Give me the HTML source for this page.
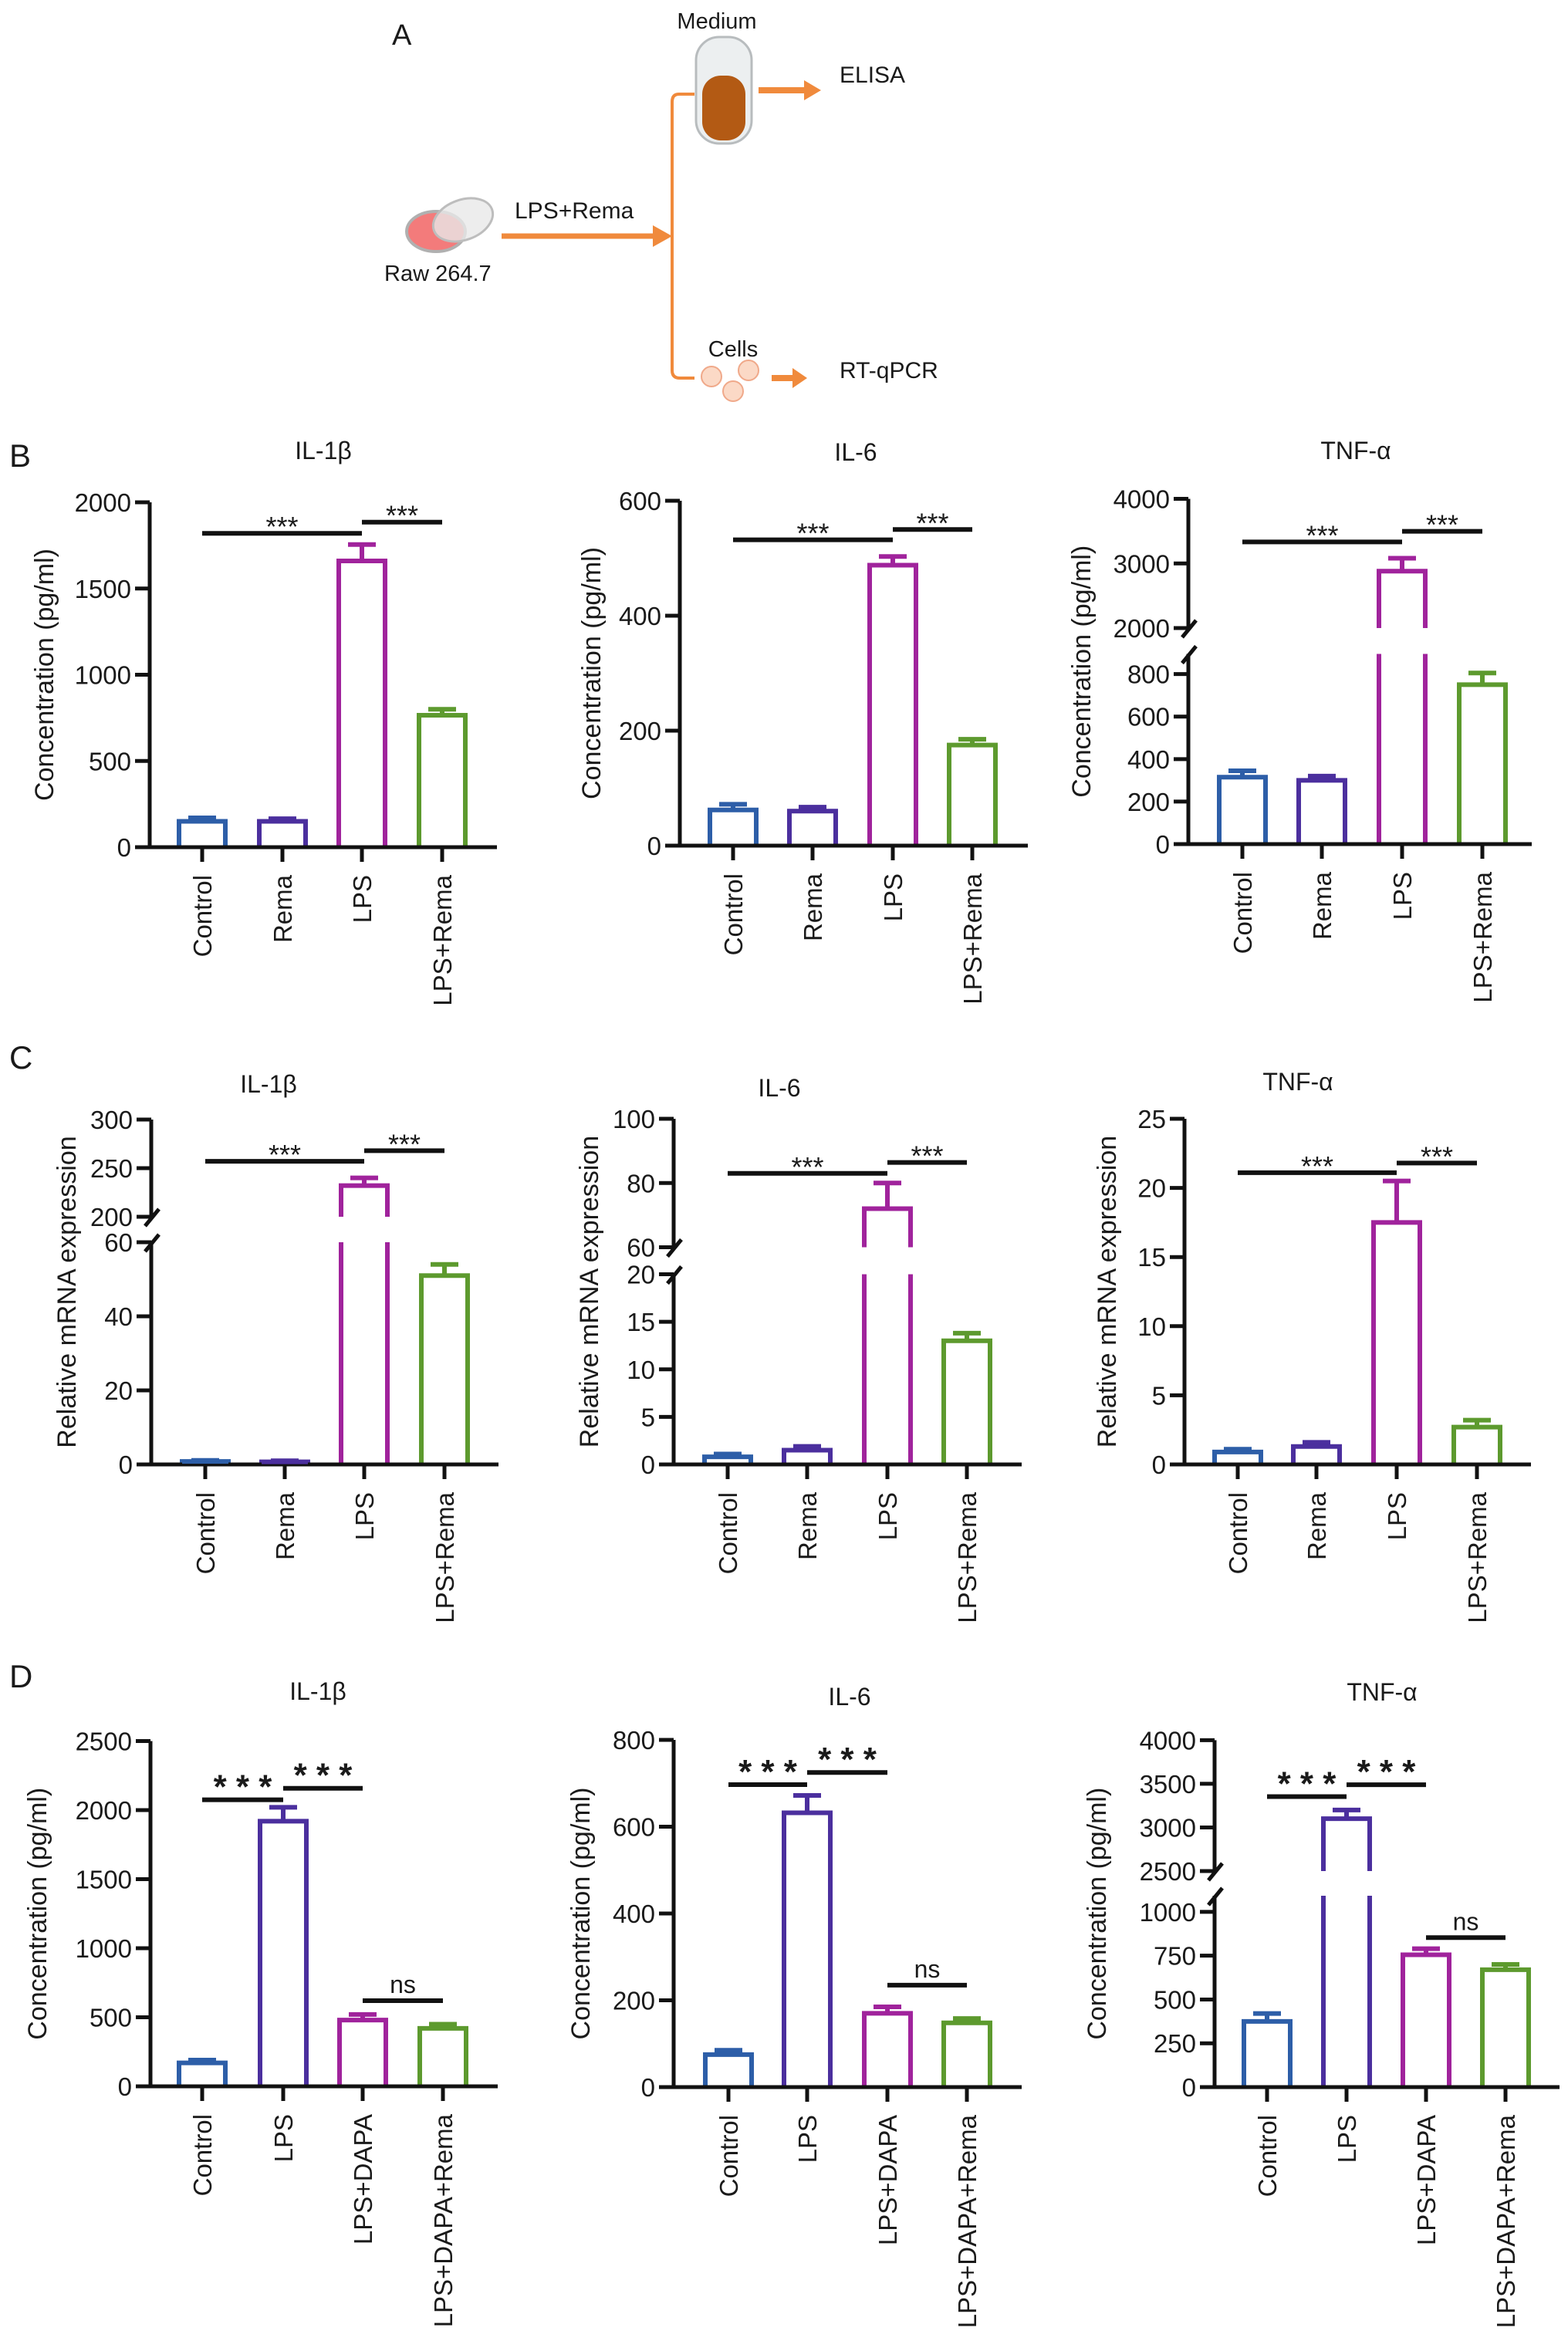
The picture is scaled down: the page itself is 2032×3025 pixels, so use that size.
<!DOCTYPE html>
<html><head><meta charset="utf-8"><style>
html,body{margin:0;padding:0;background:#fff}
svg{display:block}
text{font-family:"Liberation Sans",Arial,sans-serif;fill:#1a1a1a}
</style></head><body>
<svg id="fig" width="2032" height="3025" viewBox="0 0 2032 3025" xmlns="http://www.w3.org/2000/svg">
<g id="panelA">
  <text x="508" y="58" font-size="38">A</text>
  <text x="929" y="37" font-size="29" text-anchor="middle">Medium</text>
  <rect x="902" y="48" width="72" height="138" rx="30" fill="#eceff0" stroke="#b8bcbe" stroke-width="3"/>
  <rect x="910" y="98" width="56" height="84" rx="24" fill="#b35a14"/>
  <path d="M900 122 L880 122 Q871 122 871 132 L871 480 Q871 490 881 490 L900 490" fill="none" stroke="#f08a3c" stroke-width="4"/>
  <line x1="983" y1="117" x2="1045" y2="117" stroke="#f08a3c" stroke-width="8"/>
  <polygon points="1042,104 1064,117 1042,130" fill="#f08a3c"/>
  <text x="1088" y="107" font-size="30">ELISA</text>
  <ellipse cx="565" cy="300" rx="38" ry="26" fill="#f37b7b" stroke="#b0b0b0" stroke-width="4"/>
  <ellipse cx="600" cy="285" rx="40" ry="26" fill="#e8e8e8" fill-opacity="0.8" stroke="#bdbdbd" stroke-width="3" transform="rotate(-20 600 285)"/>
  <text x="498" y="364" font-size="29">Raw 264.7</text>
  <line x1="650" y1="306" x2="850" y2="306" stroke="#f08a3c" stroke-width="7"/>
  <polygon points="846,292 871,306 846,320" fill="#f08a3c"/>
  <text x="667" y="283" font-size="30">LPS+Rema</text>
  <text x="950" y="462" font-size="29" text-anchor="middle">Cells</text>
  <g fill="#fbd9c6" stroke="#f0a98a" stroke-width="2">
    <circle cx="922" cy="488" r="13"/><circle cx="970" cy="480" r="13"/><circle cx="950" cy="507" r="13"/>
  </g>
  <line x1="1000" y1="490" x2="1030" y2="490" stroke="#f08a3c" stroke-width="8"/>
  <polygon points="1027,477 1046,490 1027,503" fill="#f08a3c"/>
  <text x="1088" y="490" font-size="30">RT-qPCR</text>
</g>
<text x="12" y="605" font-size="42">B</text>
<text x="12" y="1385" font-size="42">C</text>
<text x="12" y="2187" font-size="42">D</text>
</svg>
<script>
// ---- data ----
const catsBC = ["Control","Rema","LPS","LPS+Rema"];
const catsD = ["Control","LPS","LPS+DAPA","LPS+DAPA+Rema"];
const colorsBC = ["#2d5ea8","#4b2f9e","#a0239c","#5d9a2e"];
const colorsD = ["#2d5ea8","#4b2f9e","#a0239c","#5d9a2e"];

const bIl1bVals = [150,150,1660,765];
const bIl1bErrs = [20,15,95,35];
const bIl1bTicks = [0,500,1000,1500,2000];
const bIl1bSig = [[0,2,1820,"***"],[2,3,1885,"***"]];

const bIl6Vals = [62,60,488,175];
const bIl6Errs = [10,7,15,10];
const bIl6Ticks = [0,200,400,600];
const bIl6Sig = [[0,2,532,"***"],[2,3,550,"***"]];

const bTnfVals = [315,300,2880,750];
const bTnfErrs = [30,20,200,55];
const bTnfTicks = [0,200,400,600,800,2000,3000,4000];
const bTnfSig = [[0,2,3333,"***"],[2,3,3497,"***"]];

const cIl1bVals = [0.8,0.7,232,51];
const cIl1bErrs = [0.3,0.3,8,3];
const cIl1bTicks = [0,20,40,60,200,250,300];
const cIl1bSig = [[0,2,257,"***"],[2,3,268,"***"]];

const cIl6Vals = [0.8,1.5,72,13];
const cIl6Errs = [0.3,0.4,8,0.8];
const cIl6Ticks = [0,5,10,15,20,60,80,100];
const cIl6Sig = [[0,2,83,"***"],[2,3,86.4,"***"]];

const cTnfVals = [0.9,1.3,17.5,2.7];
const cTnfErrs = [0.2,0.3,3,0.5];
const cTnfTicks = [0,5,10,15,20,25];
const cTnfSig = [[0,2,21.1,"***"],[2,3,21.8,"***"]];

const dIl1bVals = [170,1920,480,420];
const dIl1bErrs = [20,100,40,30];
const dIl1bTicks = [0,500,1000,1500,2000,2500];
const dIl1bSig = [[0,1,2075,"* * *"],[1,2,2158,"* * *"],[2,3,620,"ns"]];

const dIl6Vals = [75,632,170,148];
const dIl6Errs = [10,40,15,10];
const dIl6Ticks = [0,200,400,600,800];
const dIl6Sig = [[0,1,697,"* * *"],[1,2,725,"* * *"],[2,3,235,"ns"]];

const dTnfVals = [375,3100,755,670];
const dTnfErrs = [45,100,35,30];
const dTnfTicks = [0,250,500,750,1000,2500,3000,3500,4000];
const dTnfSig = [[0,1,3353,"* * *"],[1,2,3490,"* * *"],[2,3,853,"ns"]];

// ---- layout ----
const charts = [
 {id:"b-il1b",title:"IL-1β",tx:419,ty:595,ax:194,ar:644,xs:[262,366,469,573],seg:[{d:[0,2000],p:[1098,651]}],vals:bIl1bVals,errs:bIl1bErrs,ticks:bIl1bTicks,sig:bIl1bSig,cats:catsBC,cols:colorsBC,yt:"Concentration (pg/ml)",ytx:63,bold:false},
 {id:"b-il6",title:"IL-6",tx:1109,ty:597,ax:881,ar:1332,xs:[950,1053,1157,1260],seg:[{d:[0,600],p:[1096,649]}],vals:bIl6Vals,errs:bIl6Errs,ticks:bIl6Ticks,sig:bIl6Sig,cats:catsBC,cols:colorsBC,yt:"Concentration (pg/ml)",ytx:772,bold:false},
 {id:"b-tnf",title:"TNF-α",tx:1757,ty:595,ax:1540,ar:1985,xs:[1610,1713,1817,1921],seg:[{d:[0,895],p:[1094,847.5]},{d:[2000,4000],p:[814,646.5]}],vals:bTnfVals,errs:bTnfErrs,ticks:bTnfTicks,sig:bTnfSig,cats:catsBC,cols:colorsBC,yt:"Concentration (pg/ml)",ytx:1407,bold:false},
 {id:"c-il1b",title:"IL-1β",tx:348,ty:1416,ax:196,ar:646,xs:[266,369,472,576],seg:[{d:[0,60],p:[1898,1610]},{d:[200,300],p:[1577,1451]}],vals:cIl1bVals,errs:cIl1bErrs,ticks:cIl1bTicks,sig:cIl1bSig,cats:catsBC,cols:colorsBC,yt:"Relative mRNA expression",ytx:92,bold:false},
 {id:"c-il6",title:"IL-6",tx:1010,ty:1421,ax:873,ar:1324,xs:[943,1046,1150,1253],seg:[{d:[0,20],p:[1898,1651.5]},{d:[60,100],p:[1616.5,1450]}],vals:cIl6Vals,errs:cIl6Errs,ticks:cIl6Ticks,sig:cIl6Sig,cats:catsBC,cols:colorsBC,yt:"Relative mRNA expression",ytx:769,bold:false},
 {id:"c-tnf",title:"TNF-α",tx:1682,ty:1413,ax:1535,ar:1984,xs:[1604,1706,1810,1914],seg:[{d:[0,25],p:[1898,1450]}],vals:cTnfVals,errs:cTnfErrs,ticks:cTnfTicks,sig:cTnfSig,cats:catsBC,cols:colorsBC,yt:"Relative mRNA expression",ytx:1440,bold:false},
 {id:"d-il1b",title:"IL-1β",tx:412,ty:2203,ax:195,ar:645,xs:[262,367,470,574],seg:[{d:[0,2500],p:[2704,2256.5]}],vals:dIl1bVals,errs:dIl1bErrs,ticks:dIl1bTicks,sig:dIl1bSig,cats:catsD,cols:colorsD,yt:"Concentration (pg/ml)",ytx:54,bold:true},
 {id:"d-il6",title:"IL-6",tx:1101,ty:2210,ax:873,ar:1324,xs:[944,1046,1150,1253],seg:[{d:[0,800],p:[2705,2255]}],vals:dIl6Vals,errs:dIl6Errs,ticks:dIl6Ticks,sig:dIl6Sig,cats:catsD,cols:colorsD,yt:"Concentration (pg/ml)",ytx:758,bold:true},
 {id:"d-tnf",title:"TNF-α",tx:1791,ty:2204,ax:1574,ar:2021,xs:[1642,1745,1848,1951],seg:[{d:[0,1092],p:[2705,2457]},{d:[2500,4000],p:[2425,2255.4]}],vals:dTnfVals,errs:dTnfErrs,ticks:dTnfTicks,sig:dTnfSig,cats:catsD,cols:colorsD,yt:"Concentration (pg/ml)",ytx:1427,bold:true}
];

const NS="http://www.w3.org/2000/svg";
const svg=document.getElementById("fig");
function mk(tag,attrs,parent,txt){const e=document.createElementNS(NS,tag);for(const k in attrs)e.setAttribute(k,attrs[k]);if(txt!==undefined)e.textContent=txt;parent.appendChild(e);return e;}

function yScale(seg,v){
  for(let i=0;i<seg.length;i++){const s=seg[i];
    if(v<=s.d[1]||i===seg.length-1){if(i>0&&v<s.d[0])v=s.d[0];
      return s.p[0]+(v-s.d[0])/(s.d[1]-s.d[0])*(s.p[1]-s.p[0]);}
  }
}

charts.forEach(c=>{
  const g=mk("g",{},svg);
  
  
  const y0=c.seg[0].p[0], top=c.seg[c.seg.length-1].p[1];
  const t=mk("text",{x:c.tx,y:c.ty,"font-size":32,"text-anchor":"middle"},g,c.title);
  
  
  const yt=mk("text",{x:0,y:0,"font-size":34,"text-anchor":"middle",transform:`translate(${c.ytx+6},${(y0+top)/2}) rotate(-90)`},g,c.yt);
  
  
  c.seg.forEach((s,i)=>{
    const l=mk("line",{x1:c.ax,y1:s.p[0]+(i===0?2.5:0),x2:c.ax,y2:s.p[1],stroke:"#111","stroke-width":5},g);
    
    
    if(i>0){
      const prev=c.seg[i-1];
      [prev.p[1],s.p[0]].forEach(yy=>{
        const sl=mk("line",{x1:c.ax-8,y1:yy+12,x2:c.ax+10,y2:yy-10,stroke:"#111","stroke-width":5},g);
        
        
      });
    }
  });
  c.ticks.forEach(v=>{
    const yy=yScale(c.seg,v);
    const tl=mk("line",{x1:c.ax-19,y1:yy,x2:c.ax,y2:yy,stroke:"#111","stroke-width":5},g);
    
    
    const tt=mk("text",{x:c.ax-24,y:yy+12,"font-size":33,"text-anchor":"end"},g,String(v));
    
    
  });
  const xl=mk("line",{x1:c.ax-19,y1:y0,x2:c.ar,y2:y0,stroke:"#111","stroke-width":5},g);
  
  
  const bw=66, sw=6, cap=36;
  c.cats.forEach((cat,i)=>{
    const cx=c.xs[i];
    const xt=mk("line",{x1:cx,y1:y0,x2:cx,y2:y0+19,stroke:"#111","stroke-width":5},g);
    
    
    const lb=mk("text",{x:0,y:0,"font-size":33,"text-anchor":"end",transform:`translate(${cx+12},${y0+36}) rotate(-90)`},g,cat);
    
    
    const v=c.vals[i], e=c.errs[i], col=c.cols[i];
    const L=cx-bw/2+sw/2, R=cx+bw/2-sw/2, yb=y0-2.5;
    const yv=yScale(c.seg,v);
    let d;
    let segIdx=0; for(let k=0;k<c.seg.length;k++){ if(v>=c.seg[k].d[0]) segIdx=k; }
    if(segIdx===0){
      d=`M${L} ${yb} L${L} ${yv} L${R} ${yv} L${R} ${yb}`;
    } else {
      const lo=c.seg[0].p[1], hi=c.seg[segIdx].p[0];
      d=`M${L} ${yb} L${L} ${lo} M${R} ${yb} L${R} ${lo} M${L} ${hi} L${L} ${yv} L${R} ${yv} L${R} ${hi}`;
    }
    const bar=mk("path",{d:d,fill:"none",stroke:col,"stroke-width":sw},g);
    
    
    const ye=yScale(c.seg,v+e);
    const eb=mk("path",{d:`M${cx} ${yv} L${cx} ${ye} M${cx-cap/2} ${ye} L${cx+cap/2} ${ye}`,fill:"none",stroke:col,"stroke-width":sw},g);
    
    
  });
  c.sig.forEach(s=>{
    const x1=c.xs[s[0]], x2=c.xs[s[1]], yy=yScale(c.seg,s[2]);
    const sl=mk("line",{x1:x1,y1:yy,x2:x2,y2:yy,stroke:"#111","stroke-width":6},g);
    
    
    const isNs=s[3]==="ns";
    let fs, by, fw="normal";
    if(isNs){ fs=32; by=yy-10; }
    else if(c.bold){ fs=44; by=yy-2; fw="bold"; }
    else { fs=36; by=yy+4; }
    const st=mk("text",{x:(x1+x2)/2,y:by,"font-size":fs,"text-anchor":"middle","font-weight":fw},g,s[3]);
    
    
  });
});
</script>
</body></html>
